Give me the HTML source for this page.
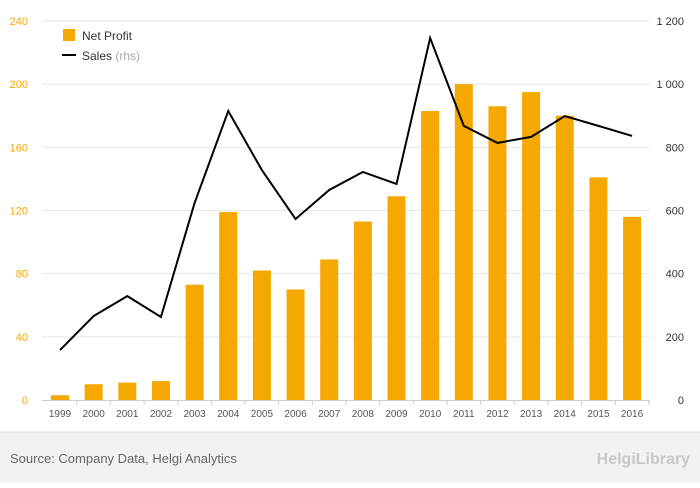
<!DOCTYPE html>
<html><head><meta charset="utf-8"><style>
body{margin:0;width:700px;height:483px;background:#fff;font-family:"Liberation Sans",sans-serif;overflow:hidden}
</style></head><body>
<svg id="chart" width="700" height="483" xmlns="http://www.w3.org/2000/svg">
<rect x="0" y="432" width="700" height="51" fill="#f2f2f2"/>
<line x1="0" y1="432" x2="700" y2="432" stroke="#ddd"/>
<text x="10" y="463" font-size="13" fill="#666">Source: Company Data, Helgi Analytics</text>
<text x="690" y="464" font-size="16" fill="#c8c8c8" text-anchor="end" font-weight="bold">HelgiLibrary</text>
<g id="grid"></g><g id="bars"></g><g id="line"></g><g id="axes"></g>
<g>
<rect x="63" y="29" width="12" height="12" fill="#f5a800"/>
<text x="82" y="40" font-size="12" fill="#333">Net Profit</text>
<line x1="62" y1="55" x2="76" y2="55" stroke="#000" stroke-width="2"/>
<text x="82" y="60" font-size="12" fill="#333">Sales <tspan fill="#aaa">(rhs)</tspan></text>
</g>
</svg>
<script>
const years=["1999","2000","2001","2002","2003","2004","2005","2006","2007","2008","2009","2010","2011","2012","2013","2014","2015","2016"];
const netProfit=[3,10,11,12,73,119,82,70,89,113,129,183,200,186,195,180,141,116];
const sales=[158,266,329,263,624,915,728,573,665,722,684,1146,868,814,833,899,868,836];
const leftTicks=[0,40,80,120,160,200,240];
const rightTicks=["0","200","400","600","800","1 000","1 200"];
const rightTickVals=[0,200,400,600,800,1000,1200];
const NS="http://www.w3.org/2000/svg";
const y0=400,yTop=21,x0=60,dx=33.65;
const yL=v=>y0-(v/240)*(y0-yTop);
const yR=v=>y0-(v/1200)*(y0-yTop);
const xC=i=>x0+i*dx;
function mk(tag,attrs,parent,txt){const e=document.createElementNS(NS,tag);for(const k in attrs)e.setAttribute(k,attrs[k]);if(txt!==undefined)e.textContent=txt;document.getElementById(parent).appendChild(e);return e;}
leftTicks.forEach((t,i)=>{
 const y=yL(t);
 if(t>0){const g=mk('line',{x1:42,x2:650,y1:y,y2:y,stroke:'#e6e6e6'},'grid');
 
 }
 const l=mk('text',{x:28,y:y+4,'font-size':11,fill:'#f5a800','text-anchor':'end'},'axes',t);
 
 
 const r=mk('text',{x:684,y:yR(rightTickVals[i])+4,'font-size':11,fill:'#333','text-anchor':'end'},'axes',rightTicks[i]);
 
 
});
const ax=mk('line',{x1:42,x2:650,y1:y0+0.5,y2:y0+0.5,stroke:'#ccc'},'axes');


years.forEach((yr,i)=>{
 const h=y0-yL(netProfit[i]);
 const b=mk('rect',{x:xC(i)-9,y:yL(netProfit[i]),width:18,height:h,fill:'#f5a800'},'bars');
 
 
 const t=mk('text',{x:xC(i),y:417,'font-size':10,fill:'#555','text-anchor':'middle'},'axes',yr);
 
 
 const tk=mk('line',{x1:xC(i)+dx/2,x2:xC(i)+dx/2,y1:y0,y2:y0+5,stroke:'#ccc'},'axes');
 
 
});
const pts=sales.map((v,i)=>xC(i)+','+yR(v)).join(' ');
const pl=mk('polyline',{points:pts,fill:'none',stroke:'#000','stroke-width':2},'line');


</script>
</body></html>
